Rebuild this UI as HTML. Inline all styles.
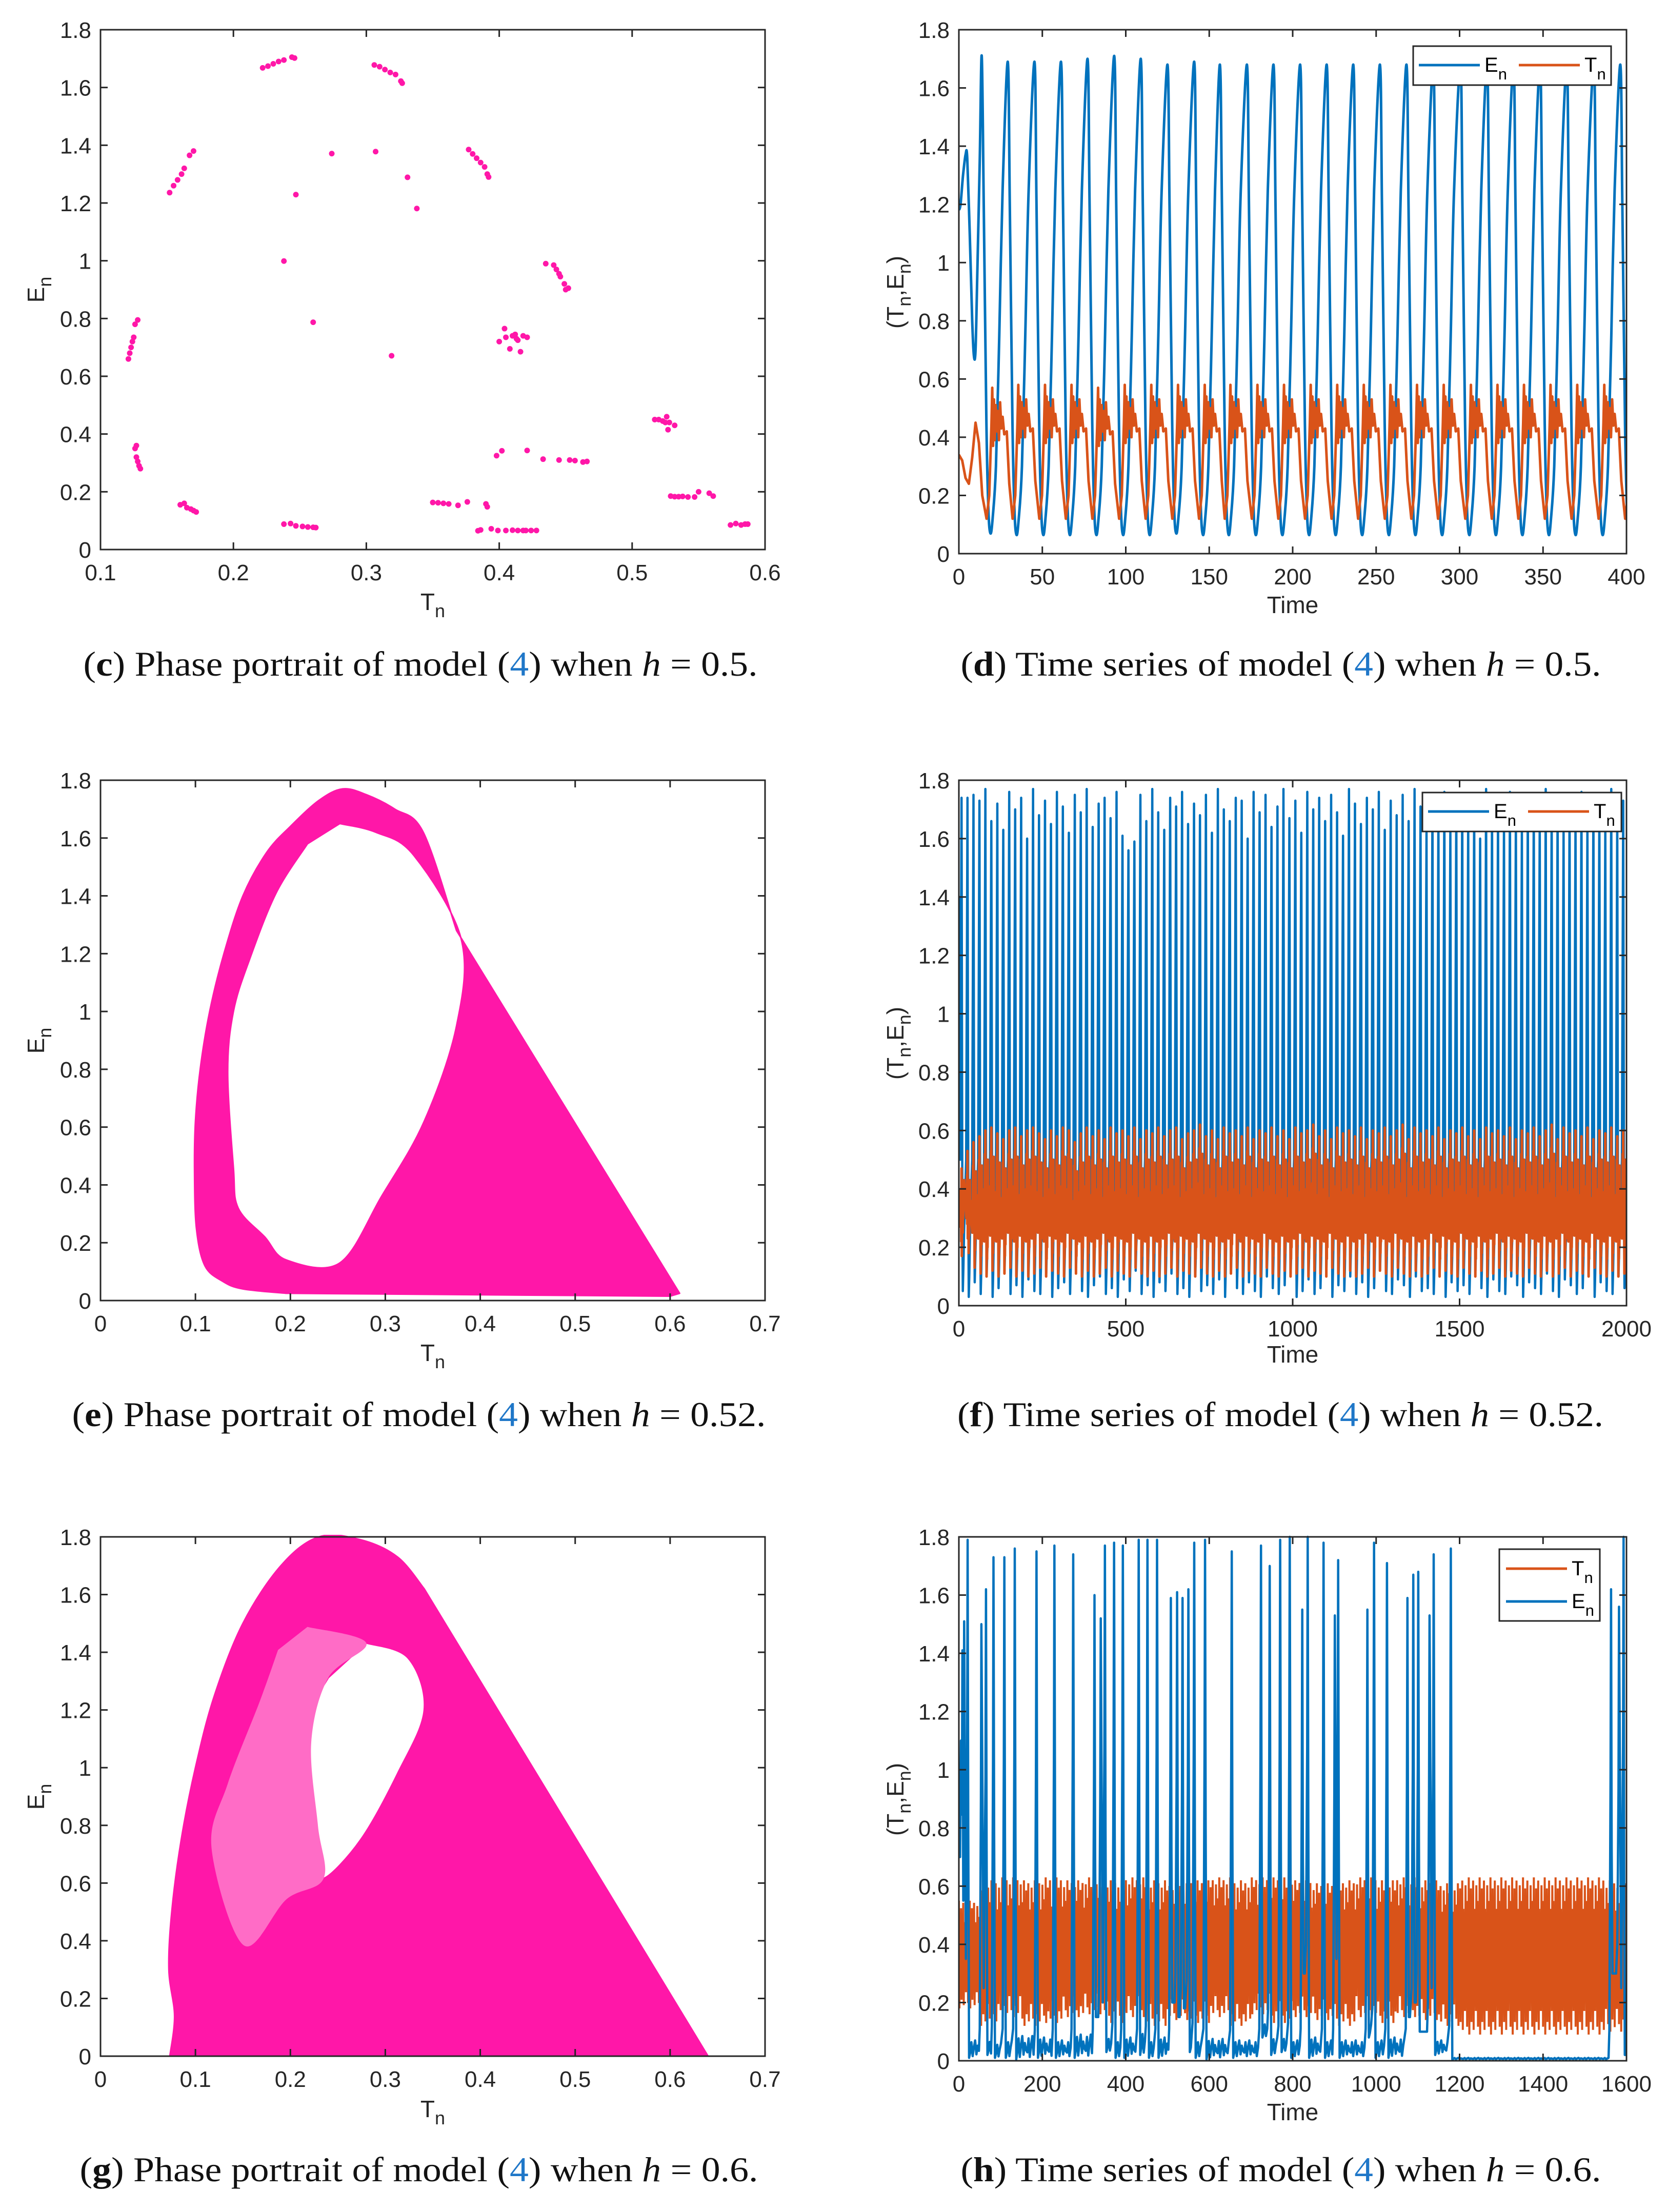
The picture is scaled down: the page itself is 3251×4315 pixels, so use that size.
<!DOCTYPE html>
<html><head><meta charset="utf-8">
<style>
html,body{margin:0;padding:0;background:#fff;}
svg{display:block;}
</style></head>
<body>
<svg id="fig" xmlns="http://www.w3.org/2000/svg" width="3251" height="4315" viewBox="0 0 3251 4315" font-family="'Liberation Sans', sans-serif"></svg>
<script>
// ---------------- DATA ----------------
const cPointsT = [.222,.226,.230,.234,.238,.244,.246, .306,.310,.314,.318,.322,.326,.327, .152,.155,.158,.161,.163,.167,.170, .377,.380,.383,.386,.389,.391,.392, .274,.307,.331,.338,.247,.238,.260,.319, .435,.441,.443,.445,.446,.449,.452,.450, .400,.404,.405,.408,.410,.412,.414,.416,.418,.421,.413, .121,.122,.123,.124,.125,.126,.128, .126,.127,.127,.128,.129,.130, .160,.163,.165,.168,.170,.172, .238,.243,.247,.252,.256,.260,.262, .350,.354,.358,.362,.369,.376,.390,.391, .384,.386,.394,.399,.405,.410,.414,.418,.420,.424,.428, .398,.402,.421,.433,.445,.453,.457,.463,.466, .517,.520,.523,.525,.526,.528,.527,.532, .529,.532,.535,.538,.542,.547,.550,.558,.561, .574,.578,.582,.585,.587];
const cPointsE = [1.668,1.674,1.682,1.690,1.695,1.705,1.702, 1.678,1.672,1.662,1.652,1.645,1.622,1.615, 1.236,1.26,1.28,1.30,1.32,1.365,1.38, 1.385,1.37,1.355,1.34,1.325,1.30,1.29, 1.371,1.378,1.289,1.181,1.229,0.999,0.787,0.671, .99,.985,.97,.955,.945,.92,.905,.90, .72,.765,.735,.695,.74,.745,.725,.685,.74,.735,.73, .66,.68,.70,.72,.735,.78,.795, .35,.36,.32,.305,.29,.28, .155,.16,.145,.14,.135,.13, .088,.09,.082,.08,.078,.077,.076, .163,.162,.160,.158,.153,.165,.158,.148, .065,.068,.072,.066,.066,.067,.066,.066,.066,.066,.066, .325,.342,.343,.313,.31,.31,.308,.303,.305, .45,.45,.445,.44,.46,.44,.415,.43, .185,.183,.183,.184,.182,.182,.2,.195,.185, .085,.09,.085,.088,.088];

const dInitT = [0,1,2.5,4,5,6.5,8,9,10,11,12.5];
const dInitE = [1.18,1.2,1.3,1.37,1.36,1.1,0.8,0.68,0.7,0.95,1.35];
const dPeakT = [13.7,29.3,45.3,61.2,77.1,93.1,109,125,141,156.4,172.6,188.5,204.5,220.4,236.3,252.3,268.2,284.2,300.5,316.4,332.3,348.2,364.2,380.4,396.3];
const dPeakE = [1.71,1.69,1.69,1.69,1.70,1.71,1.70,1.68,1.69,1.68,1.68,1.68,1.68,1.68,1.68,1.68,1.68,1.68,1.68,1.68,1.68,1.68,1.68,1.68,1.68];
const dTroughE = [0.07,0.065,0.065,0.065,0.065,0.065,0.065,0.07,0.065,0.065,0.065,0.065,0.065,0.065,0.065,0.065,0.065,0.065,0.065,0.065,0.065,0.065,0.065,0.065,0.065];
const dInitTT = [0,2,4,6,8,10,12,14,16.6];
const dInitTv = [0.34,0.32,0.26,0.24,0.33,0.45,0.38,0.2,0.12];
const dTmax = [0.57,0.58,0.58,0.58,0.57,0.58,0.58,0.58,0.58,0.58,0.58,0.58,0.58,0.58,0.58,0.58,0.58,0.58,0.58,0.58,0.58,0.58,0.58,0.58,0.58];
const dTmin = [0.12,0.12,0.12,0.12,0.12,0.12,0.12,0.12,0.12,0.12,0.12,0.12,0.12,0.12,0.12,0.12,0.12,0.12,0.12,0.12,0.12,0.12,0.12,0.12,0.12];

// curved part of outer boundary (bottom-left -> top -> right shoulder), then straight to the corner points
const eCurveT = [0.196,0.150,0.129,0.110,0.101,0.099,0.100,0.105,0.115,0.130,0.150,0.175,0.200,0.230,0.255,0.280,0.310,0.340,0.375];
const eCurveE = [0.025,0.040,0.066,0.12,0.25,0.45,0.62,0.80,1.00,1.20,1.40,1.55,1.64,1.73,1.77,1.75,1.70,1.62,1.28];
const eCornerT = [0.610,0.600];
const eCornerE = [0.025,0.015];
const eHoleT = [0.252,0.290,0.330,0.380,0.375,0.341,0.296,0.252,0.196,0.173,0.145,0.140,0.134,0.140,0.157,0.185,0.218];
const eHoleE = [1.65,1.62,1.54,1.25,0.95,0.62,0.36,0.13,0.14,0.22,0.32,0.46,0.79,1.0,1.18,1.41,1.58];

const fPeakE = [1.74,1.74,1.75,1.73,1.77,1.66,1.72,1.63,1.76,1.70,1.74,1.60,1.77,1.68,1.73,1.65,1.76,1.71,1.62,1.75,1.69,1.77,1.64,1.72,1.74,1.67,1.76,1.61,1.56,1.59,1.75,1.66,1.77,1.69,1.63,1.74,1.71,1.76,1.65,1.72,1.68,1.75,1.62,1.77,1.70,1.66,1.74,1.73,1.60,1.76,1.69,1.75,1.64,1.71,1.77,1.67,1.73,1.62,1.76,1.70,1.74,1.66,1.75,1.69,1.61,1.77,1.72,1.65,1.74,1.70,1.76,1.63,1.73,1.68,1.75,1.66,1.77,1.71,1.62,1.74,1.69,1.76,1.64,1.72,1.75,1.67,1.73,1.60,1.77,1.70,1.74,1.65,1.76,1.69,1.63,1.75,1.72,1.66,1.77,1.70,1.74,1.62,1.73,1.68,1.76,1.65,1.75,1.71,1.64,1.77,1.69,1.73];
const fTroughE = [0.05,0.03,0.08,0.04,0.10,0.03,0.06,0.12,0.04,0.07,0.03,0.09,0.05,0.04,0.11,0.03,0.06,0.08,0.04,0.13,0.05,0.03,0.07,0.10,0.04,0.06,0.03,0.09,0.05,0.12,0.04,0.07,0.03,0.08,0.05,0.11,0.04,0.06,0.03,0.10,0.05,0.07,0.04,0.09,0.03,0.12,0.06,0.04,0.08,0.05,0.03,0.10,0.06,0.04,0.07,0.11,0.03,0.05,0.09,0.04,0.06,0.13,0.03,0.07,0.05,0.10,0.04,0.08,0.03,0.06,0.12,0.05,0.04,0.09,0.07,0.03,0.10,0.05,0.06,0.04,0.11,0.03,0.08,0.05,0.07,0.04,0.12,0.06,0.03,0.09,0.05,0.04,0.10,0.07,0.03,0.08,0.06,0.04,0.11,0.05,0.03,0.09,0.07,0.04,0.06,0.12,0.03,0.08,0.05,0.04,0.10,0.06];
const fTmax = [0.47,0.53,0.56,0.58,0.60,0.61,0.59,0.57,0.60,0.61,0.58,0.60,0.61,0.59,0.57,0.60,0.58,0.61,0.60,0.56,0.59,0.61,0.58,0.60,0.57,0.61,0.59,0.60,0.58,0.61,0.57,0.60,0.59,0.61,0.58,0.60,0.61,0.57,0.59,0.60,0.62,0.58,0.60,0.57,0.61,0.59,0.60,0.58,0.61,0.57,0.60,0.59,0.61,0.58,0.60,0.57,0.61,0.59,0.60,0.62,0.58,0.60,0.57,0.61,0.59,0.60,0.58,0.61,0.57,0.60,0.59,0.61,0.58,0.60,0.62,0.57,0.61,0.59,0.60,0.58,0.61,0.57,0.60,0.59,0.61,0.58,0.60,0.57,0.61,0.59,0.60,0.58,0.61,0.57,0.60,0.59,0.61,0.58,0.60,0.62,0.57,0.61,0.59,0.60,0.58,0.61,0.57,0.60,0.59,0.61,0.58,0.60];
const fTmin = [0.25,0.18,0.13,0.11,0.10,0.12,0.10,0.11,0.13,0.10,0.12,0.10,0.11,0.13,0.10,0.12,0.11,0.10,0.13,0.11,0.10,0.12,0.10,0.11,0.13,0.10,0.12,0.11,0.10,0.13,0.11,0.10,0.12,0.10,0.11,0.13,0.10,0.12,0.11,0.10,0.13,0.11,0.10,0.12,0.10,0.11,0.13,0.10,0.12,0.11,0.10,0.13,0.11,0.10,0.12,0.10,0.11,0.13,0.10,0.12,0.11,0.10,0.13,0.11,0.10,0.12,0.10,0.11,0.13,0.10,0.12,0.11,0.10,0.13,0.11,0.10,0.12,0.10,0.11,0.13,0.10,0.12,0.11,0.10,0.13,0.11,0.10,0.12,0.10,0.11,0.13,0.10,0.12,0.11,0.10,0.13,0.11,0.10,0.12,0.10,0.11,0.13,0.10,0.12,0.11,0.10,0.13,0.11,0.10,0.12,0.10,0.11];

const gCurveT = [0.073,0.078,0.072,0.075,0.085,0.100,0.120,0.150,0.190,0.230,0.274,0.313,0.341];
const gCurveE = [0.0,0.14,0.30,0.50,0.75,1.00,1.25,1.50,1.70,1.80,1.79,1.73,1.62];
const gCornerT = [0.640];
const gCornerE = [0.0];
const gHoleT = [0.280,0.324,0.341,0.313,0.274,0.235,0.229,0.222,0.220,0.225,0.240];
const gHoleE = [1.432,1.38,1.20,0.98,0.75,0.616,0.70,0.80,1.10,1.22,1.312];
const gLightT = [0.218,0.280,0.240,0.222,0.229,0.235,0.196,0.151,0.117,0.134,0.168,0.187];
const gLightE = [1.488,1.432,1.312,1.088,0.80,0.616,0.544,0.384,0.72,0.944,1.232,1.408];

const hSpikeT = [8.5,12.7,21,54,65,83,109,134,186,229,274,325,340,350,372,393,431,452,475,508,523,536,550,564,590,654,724,745,770,793,823,836,874,901,909,979,995,1026,1075,1089,1101,1128,1138,1179,1563,1582,1593];
const hSpikeE = [1.41,1.51,1.79,1.50,1.62,1.73,1.73,1.76,1.75,1.77,1.74,1.60,1.52,1.77,1.78,1.77,1.79,1.79,1.79,1.59,1.61,1.59,1.62,1.78,1.79,1.75,1.77,1.70,1.79,1.80,1.55,1.80,1.78,1.53,1.72,1.55,1.78,1.71,1.59,1.67,1.68,1.53,1.74,1.76,1.62,1.56,1.80];
const hGapMin = [0.55,0.35,0.01,0.25,0.02,0.01,0.01,0.005,0.01,0.01,0.01,0.15,0.20,0.03,0.01,0.01,0.02,0.01,0.01,0.20,0.15,0.18,0.03,0.01,0.005,0.01,0.08,0.02,0.03,0.01,0.30,0.01,0.01,0.35,0.01,0.08,0.01,0.01,0.15,0.20,0.10,0.25,0.02,0.005,0.30,0.25];
const hGapNoise = [0,0,0.06,0,0.05,0.05,0.06,0.08,0.07,0.06,0.08,0,0,0.05,0.06,0.07,0.08,0.06,0.07,0,0,0,0.05,0.06,0.07,0.06,0.05,0.06,0.05,0.06,0,0.07,0.06,0,0.06,0.05,0.06,0.07,0,0,0,0,0.05,0.005,0,0];
const hTop = [0.55,0.62,0.63,0.62,0.63,0.62,0.63,0.62,0.63,0.62,0.61,0.62,0.63,0.62,0.63,0.63,0.62,0.61,0.62,0.63,0.62,0.63,0.62,0.61,0.63,0.63,0.63,0.63,0.63,0.63,0.63,0.62,0.60];
const hBot = [0.18,0.12,0.15,0.12,0.13,0.15,0.16,0.13,0.15,0.12,0.14,0.13,0.15,0.12,0.16,0.13,0.15,0.14,0.12,0.15,0.13,0.15,0.14,0.12,0.09,0.09,0.09,0.09,0.09,0.09,0.09,0.10,0.15];

// ---------------- DRAWING ----------------
const NS = "http://www.w3.org/2000/svg";
const svg = document.getElementById('fig');
const BLUE = '#0072bd', ORANGE = '#d95319', PINK = '#ff17a8', AX = '#262626';
function mk(tag, parent, attrs){const e=document.createElementNS(NS,tag);for(const k in attrs)e.setAttribute(k,attrs[k]);parent.appendChild(e);return e;}

function makeAxes(name, L,R,T,B, x0,x1,y0,y1, xTicks, yTicks){
  const g = mk('g', svg, {});
  
  
  const X = v => L + (v-x0)/(x1-x0)*(R-L);
  const Y = v => B - (v-y0)/(y1-y0)*(B-T);
  const cp = mk('clipPath', g, {id: 'clip-'+name});
  mk('rect', cp, {x:L, y:T-4, width:R-L, height:B-T+8});
  const plot = mk('g', g, {'clip-path': 'url(#clip-'+name+')'});
  
  
  const frame = () => {
    const f = mk('g', g, {stroke: AX, 'stroke-width': 3, fill: 'none'});
    
    
    mk('rect', f, {x:L, y:T, width:R-L, height:B-T});
    xTicks.forEach(s => {
      const x = X(parseFloat(s));
      mk('line', f, {x1:x, y1:B, x2:x, y2:B-14});
      mk('line', f, {x1:x, y1:T, x2:x, y2:T+14});
      const t = mk('text', g, {x:x, y:B+60, 'text-anchor':'middle', 'font-size':44, fill:AX});
      
      
      t.textContent = s;
    });
    yTicks.forEach(s => {
      const y = Y(parseFloat(s));
      mk('line', f, {x1:L, y1:y, x2:L+14, y2:y});
      mk('line', f, {x1:R, y1:y, x2:R-14, y2:y});
      const t = mk('text', g, {x:L-18, y:y+16, 'text-anchor':'end', 'font-size':44, fill:AX});
      
      
      t.textContent = s;
    });
  };
  return {X, Y, g, plot, frame, L, R, T, B};
}

function subLabel(parent, x, y, parts, rotate, name){
  const t = mk('text', parent, {x:x, y:y, 'text-anchor':'middle', 'font-size':46, fill:AX});
  if (rotate) t.setAttribute('transform', `rotate(-90 ${x} ${y})`);
  
  
  parts.forEach(p => {
    const ts = mk('tspan', t, p[1] ? {'font-size':36, dy:14} : {dy: p[2]||0});
    ts.textContent = p[0];
  });
  return t;
}

function caption(cx, y, width, letter, rest, hval){
  const t = mk('text', svg, {x:cx, y:y, 'text-anchor':'middle', 'font-size':68, fill:'#111', 'font-family':"'Liberation Serif', serif", textLength:width, lengthAdjust:'spacingAndGlyphs'});
  
  
  const parts = [['(',{}],[letter,{'font-weight':'bold'}],[') '+rest+' (',{}],['4',{fill:'#1f77c8'}],[') when ',{}],['h',{'font-style':'italic'}],[' = '+hval+'.',{}]];
  parts.forEach(p => { const s = mk('tspan', t, p[1]); s.textContent = p[0]; });
}

function smoothPath(pts){
  let d = `M${pts[0][0].toFixed(1)},${pts[0][1].toFixed(1)}`;
  for (let i=0;i<pts.length-1;i++){
    const p0=pts[i-1]||pts[i], p1=pts[i], p2=pts[i+1], p3=pts[i+2]||pts[i+1];
    const c1x=p1[0]+(p2[0]-p0[0])/6, c1y=p1[1]+(p2[1]-p0[1])/6;
    const c2x=p2[0]-(p3[0]-p1[0])/6, c2y=p2[1]-(p3[1]-p1[1])/6;
    d += `C${c1x.toFixed(1)},${c1y.toFixed(1)} ${c2x.toFixed(1)},${c2y.toFixed(1)} ${p2[0].toFixed(1)},${p2[1].toFixed(1)}`;
  }
  return d;
}
function linePath(pts){ return 'M'+pts.map(p=>p[0].toFixed(1)+','+p[1].toFixed(1)).join('L'); }
function polyD(ax, Ts, Es){ return 'M'+Ts.map((t,i)=>ax.X(t).toFixed(1)+','+ax.Y(Es[i]).toFixed(1)).join('L')+'Z'; }
function smoothD(ax, Ts, Es){ return smoothPath(Ts.map((t,i)=>[ax.X(t),ax.Y(Es[i])]))+'Z'; }
function curveThenLines(ax, cT, cE, lT, lE){
  return smoothPath(cT.map((t,i)=>[ax.X(t),ax.Y(cE[i])])) + lT.map((t,i)=>'L'+ax.X(t).toFixed(1)+','+ax.Y(lE[i]).toFixed(1)).join('') + 'Z';
}

function legend(x, y, w, h, entries, vertical){
  const g = mk('g', svg, {});
  
  
  const box = mk('rect', g, {x:x, y:y, width:w, height:h, fill:'#fff', stroke:AX, 'stroke-width':3});
  
  
  entries.forEach((e,i) => {
    const eg = mk('g', g, {});
    
    
    const lx = vertical ? x+13 : x+11+i*195;
    const ly = vertical ? y+38+i*64 : y+37;
    mk('line', eg, {x1:lx, y1:ly, x2:lx+119, y2:ly, stroke:e.color, 'stroke-width':5});
    const t = mk('text', eg, {x:lx+128, y:ly+13, 'font-size':40, fill:'#000'});
    t.textContent = e.sym;
    const s = mk('tspan', t, {'font-size':31, dy:15}); s.textContent = 'n';
  });
}

// ---------- (c) ----------
{
  const ax = makeAxes('phase-portrait-c', 196,1492,58,1072, 0.1,0.6,0,1.8, ['0.1','0.2','0.3','0.4','0.5','0.6'], ['0','0.2','0.4','0.6','0.8','1','1.2','1.4','1.6','1.8']);
  cPointsT.forEach((t,i) => {
    const c = mk('circle', ax.plot, {cx:ax.X(t), cy:ax.Y(cPointsE[i]), r:5.5, fill:PINK});
    
    
  });
  ax.frame();
  subLabel(ax.g, 844, 1190, [['T'],['n',1]], false, 'x-axis-title');
  subLabel(ax.g, 86, 565, [['E'],['n',1]], true, 'y-axis-title');
}
caption(820, 1318, 1315, 'c', 'Phase portrait of model', '0.5');

// ---------- (d) ----------
{
  const ax = makeAxes('time-series-d', 1870,3172,58,1080, 0,400,0,1.8, ['0','50','100','150','200','250','300','350','400'], ['0','0.2','0.4','0.6','0.8','1','1.2','1.4','1.6','1.8']);
  const ep = dInitT.map((t,i)=>[t,dInitE[i]]);
  dPeakT.forEach((p,k) => {
    const m = dTroughE[k];
    ep.push([p,dPeakE[k]],[p+1.2,1.2],[p+2.8,0.45],[p+4,0.15],[p+5.2,m],[p+6.5,m+0.05],[p+8.5,0.3],[p+10.5,0.75],[p+12.5,1.25]);
  });
  const eP = ep.filter(q=>q[0]<=404).map(q=>[ax.X(q[0]),ax.Y(q[1])]);
  const tp = dInitTT.map((t,i)=>[t,dInitTv[i]]);
  dPeakT.forEach((p,k) => {
    const M = dTmax[k], mn = dTmin[k];
    tp.push([p+2.9,mn],[p+4.5,mn+0.08],[p+5.8,M-0.13],[p+6.3,M],[p+6.8,M-0.2],[p+7.3,M-0.04],[p+7.8,M-0.18],[p+8.4,M-0.06],[p+9,M-0.15],[p+9.6,M-0.08],[p+10.3,M-0.18],[p+11,M-0.05],[p+11.7,M-0.14],[p+12.5,M-0.1],[p+13.5,M-0.16],[p+15,M-0.15],[p+16.5,M-0.33]);
  });
  const tP = tp.filter(q=>q[0]<=402).map(q=>[ax.X(q[0]),ax.Y(q[1])]);
  const eLine = mk('path', ax.plot, {d:smoothPath(eP), fill:'none', stroke:BLUE, 'stroke-width':5, 'stroke-linejoin':'round'});
  
  
  const tLine = mk('path', ax.plot, {d:linePath(tP), fill:'none', stroke:ORANGE, 'stroke-width':5, 'stroke-linejoin':'round'});
  
  
  ax.frame();
  subLabel(ax.g, 2521, 1196, [['Time']], false, 'x-axis-title');
  subLabel(ax.g, 1762, 570, [['(T'],['n',1],[',E',0,-14],['n',1],[')',0,-14]], true, 'y-axis-title');
}
legend(2756,90,386,76,[{key:'E',color:BLUE,sym:'E'},{key:'T',color:ORANGE,sym:'T'}], false);
caption(2498, 1318, 1249, 'd', 'Time series of model', '0.5');

// ---------- (e) ----------
{
  const ax = makeAxes('phase-portrait-e', 196,1492,1522,2537, 0,0.7,0,1.8, ['0','0.1','0.2','0.3','0.4','0.5','0.6','0.7'], ['0','0.2','0.4','0.6','0.8','1','1.2','1.4','1.6','1.8']);
  const p = mk('path', ax.plot, {d:curveThenLines(ax,eCurveT,eCurveE,eCornerT,eCornerE)+smoothD(ax,eHoleT,eHoleE), fill:PINK, 'fill-rule':'evenodd', stroke:PINK, 'stroke-width':3, 'stroke-linejoin':'round'});
  
  
  ax.frame();
  subLabel(ax.g, 844, 2655, [['T'],['n',1]], false, 'x-axis-title');
  subLabel(ax.g, 86, 2030, [['E'],['n',1]], true, 'y-axis-title');
}
caption(817, 2782, 1353, 'e', 'Phase portrait of model', '0.52');

// ---------- (f) ----------
{
  const ax = makeAxes('time-series-f', 1870,3172,1522,2547, 0,2000,0,1.8, ['0','500','1000','1500','2000'], ['0','0.2','0.4','0.6','0.8','1','1.2','1.4','1.6','1.8']);
  const per = 2000/fPeakE.length;
  const ep = [[0,0.9],[1.5,1.4],[3,0.6]];
  fPeakE.forEach((P,k) => {
    const p = 8 + k*per;
    ep.push([p-4,0.5],[p-2,1.1],[p,P],[p+1.2,1.0],[p+2.5,0.3],[p+3.8,fTroughE[k]],[p+5.5,fTroughE[k]+0.08],[p+7.5,0.25]);
  });
  const eP = ep.map(q=>[ax.X(q[0]),ax.Y(q[1])]);
  const tp = [];
  fTmax.forEach((M,k) => {
    const p = 8 + k*per, mn = fTmin[k];
    tp.push([p-3.5,mn+0.12],[p-2.8,M-0.2],[p-2,mn+0.15],[p-1.5,M-0.08],[p-0.8,M-0.25],[p,M],[p+0.8,M-0.3],[p+1.6,M-0.12],[p+2.2,mn+0.12],[p+2.7,M-0.15],[p+3.5,mn],[p+4.2,M-0.18],[p+5,mn+0.06],[p+5.7,M-0.12],[p+6.5,mn+0.1],[p+7.2,M-0.1],[p+7.8,mn+0.18]);
  });
  const tP = tp.map(q=>[ax.X(q[0]),ax.Y(q[1])]);
  const eLine = mk('path', ax.plot, {d:linePath(eP), fill:'none', stroke:BLUE, 'stroke-width':4.5, 'stroke-linejoin':'round'});
  
  
  const tLine = mk('path', ax.plot, {d:linePath(tP), fill:'none', stroke:ORANGE, 'stroke-width':5, 'stroke-linejoin':'round'});
  
  
  ax.frame();
  subLabel(ax.g, 2521, 2658, [['Time']], false, 'x-axis-title');
  subLabel(ax.g, 1762, 2035, [['(T'],['n',1],[',E',0,-14],['n',1],[')',0,-14]], true, 'y-axis-title');
}
legend(2774,1546,388,76,[{key:'E',color:BLUE,sym:'E'},{key:'T',color:ORANGE,sym:'T'}], false);
caption(2497, 2782, 1260, 'f', 'Time series of model', '0.52');

// ---------- (g) ----------
{
  const ax = makeAxes('phase-portrait-g', 196,1492,2998,4011, 0,0.7,0,1.8, ['0','0.1','0.2','0.3','0.4','0.5','0.6','0.7'], ['0','0.2','0.4','0.6','0.8','1','1.2','1.4','1.6','1.8']);
  const p = mk('path', ax.plot, {d:curveThenLines(ax,gCurveT,gCurveE,gCornerT,gCornerE)+smoothD(ax,gHoleT,gHoleE), fill:PINK, 'fill-rule':'evenodd', stroke:PINK, 'stroke-width':3, 'stroke-linejoin':'round'});
  
  
  const lt = mk('path', ax.plot, {d:smoothD(ax,gLightT,gLightE), fill:'#ff6cc6', stroke:'none'});
  
  
  ax.frame();
  subLabel(ax.g, 844, 4130, [['T'],['n',1]], false, 'x-axis-title');
  subLabel(ax.g, 86, 3505, [['E'],['n',1]], true, 'y-axis-title');
}
caption(817, 4255, 1323, 'g', 'Phase portrait of model', '0.6');

// ---------- (h) ----------
{
  const ax = makeAxes('time-series-h', 1870,3172,2998,4020, 0,1600,0,1.8, ['0','200','400','600','800','1000','1200','1400','1600'], ['0','0.2','0.4','0.6','0.8','1','1.2','1.4','1.6','1.8']);
  const pattU = [1,0.72,0.93,0.55,0.98,0.8,0.62,0.95,0.85,0.5];
  const pattL = [0,0.35,0.08,0.5,0.03,0.28,0.15,0.42,0.05,0.22];
  const tp = [];
  let j = 0;
  for (let t=0; t<=1600; t+=1.3, j++){
    const s = Math.min(hTop.length-1, Math.floor(t/50));
    const top = hTop[s], bot = hBot[s];
    const v = (j%2===0) ? bot+(top-bot)*pattU[(j>>1)%pattU.length] : bot+(top-bot)*pattL[(j>>1)%pattL.length];
    tp.push([ax.X(t), ax.Y(v)]);
  }
  const tLine = mk('path', ax.plot, {d:linePath(tp), fill:'none', stroke:ORANGE, 'stroke-width':4});
  
  
  const bump = [0.3,0.9,0.1,0.6,1,0.2,0.7,0.4];
  const ep = [[0,1.0],[3,0.7],[5,1.1]];
  hSpikeT.forEach((s,i) => {
    ep.push([s-1.2, hSpikeE[i]*0.6],[s, hSpikeE[i]]);
    if (i < hSpikeT.length-1){
      const nx = hSpikeT[i+1], gap = nx - s, mn = hGapMin[i], nz = hGapNoise[i];
      if (gap < 12){ ep.push([s+gap*0.5, mn]); }
      else {
        ep.push([s+1.5, hSpikeE[i]*0.45],[s+3.5, mn]);
        let k = 0;
        for (let t=s+6; t<nx-5; t+=3, k++) ep.push([t, mn + nz*bump[k%bump.length]]);
        ep.push([nx-4, mn+0.1]);
      }
    } else { ep.push([s+1.5, 0.6],[s+3, 0.02],[1600, 0.02]); }
  });
  const eP = ep.map(q=>[ax.X(q[0]),ax.Y(q[1])]);
  const eLine = mk('path', ax.plot, {d:linePath(eP), fill:'none', stroke:BLUE, 'stroke-width':4.5, 'stroke-linejoin':'round'});
  
  
  ax.frame();
  subLabel(ax.g, 2521, 4136, [['Time']], false, 'x-axis-title');
  subLabel(ax.g, 1762, 3510, [['(T'],['n',1],[',E',0,-14],['n',1],[')',0,-14]], true, 'y-axis-title');
}
legend(2924,3022,196,140,[{key:'T',color:ORANGE,sym:'T'},{key:'E',color:BLUE,sym:'E'}], true);
caption(2498, 4255, 1249, 'h', 'Time series of model', '0.6');
</script>
</body></html>
